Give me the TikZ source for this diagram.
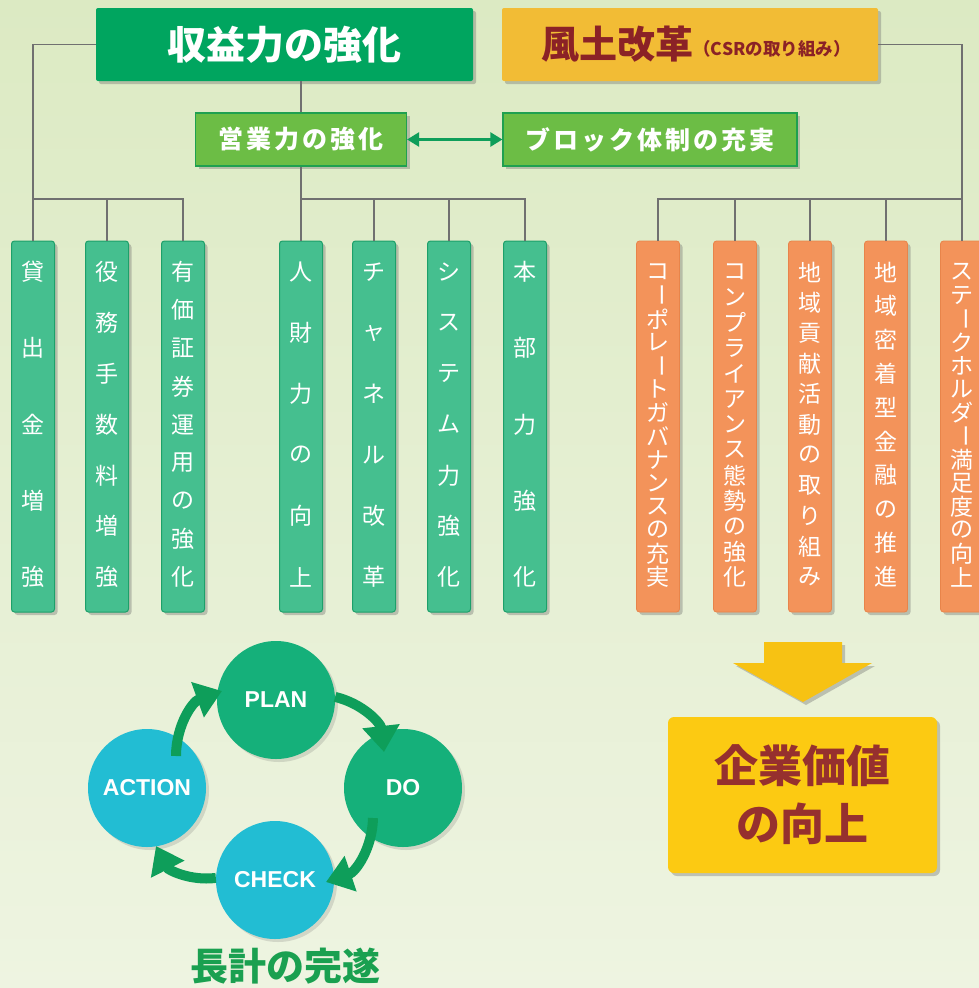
\documentclass[tikz,border=0pt]{standalone}
\usepackage{fontspec}
\setmainfont{Liberation Sans}
\newfontfamily\cjk{Noto Sans CJK JP}
\newfontfamily\cjkls{Noto Sans CJK JP}[LetterSpace=12]
\usetikzlibrary{shadows,arrows.meta}
\definecolor{bgA}{HTML}{DCEAC3}
\definecolor{bgB}{HTML}{D5E6B6}
\definecolor{bgC}{HTML}{EEF4E1}
\definecolor{gDark}{HTML}{00A55F}
\definecolor{yHead}{HTML}{F2BC35}
\definecolor{dRed}{HTML}{8B2226}
\definecolor{gMid}{HTML}{6CBD45}
\definecolor{gMidB}{HTML}{1FA050}
\definecolor{gCol}{HTML}{45BF8F}
\definecolor{gColB}{HTML}{1DA06A}
\definecolor{oCol}{HTML}{F3935A}
\definecolor{oColB}{HTML}{E8844A}
\definecolor{pdG}{HTML}{15B07A}
\definecolor{pdC}{HTML}{22BDD3}
\definecolor{arrG}{HTML}{0E9E5A}
\definecolor{txG}{HTML}{1AA050}
\definecolor{yArr}{HTML}{F7C213}
\definecolor{yBox}{HTML}{FCCA12}
\definecolor{boxRed}{HTML}{96302E}
\definecolor{lineC}{HTML}{707070}
\newcommand\tbar{\rotatebox[origin=c]{-90}{ー}}
\newcommand\colchars[3]{%
  \foreach \c [count=\i] in {#3} {\node[chr] at (#1,{272+(\i-1)*305/(#2-1)}) {\c};}}
\begin{document}
\begin{tikzpicture}[x=1pt,y=-1pt,
  shad/.style={drop shadow={shadow xshift=3pt,shadow yshift=-3pt,opacity=0.35,fill=black!60}},
  hbox/.style={shad,rounded corners=2pt,inner sep=0pt,minimum height=73pt},
  mbox/.style={shad,fill=gMid,draw=gMidB,line width=1.2pt,inner sep=0pt,minimum height=53pt,text=white,
     font=\cjkls\bfseries\fontsize{25}{25}\selectfont},
  gcol/.style={shad,fill=gCol,draw=gColB,line width=1pt,rounded corners=3pt,minimum width=43pt,minimum height=371pt,inner sep=0pt},
  ocol/.style={shad,fill=oCol,draw=oColB,line width=0.8pt,rounded corners=3pt,minimum width=43pt,minimum height=371pt,inner sep=0pt},
  chr/.style={text=white,inner sep=0pt,font=\cjk\fontsize{23}{23}\selectfont},
  conn/.style={draw=lineC,line width=1.3pt},
  darrow/.style={draw=arrG,line width=2.5pt,{Triangle[width=14pt,length=12pt]}-{Triangle[width=14pt,length=12pt]}},
  pd/.style={circle,minimum size=118pt,inner sep=0pt,text=white,font=\bfseries\fontsize{23}{23}\selectfont,
     drop shadow={shadow xshift=3pt,shadow yshift=-3pt,opacity=0.2,fill=black!60}},
  parrow/.style={draw=arrG,line width=10pt,-{Triangle[width=36pt,length=26pt]}}
]
\useasboundingbox (0,0) rectangle (979,988);
\shade[top color=bgA,middle color=bgB,bottom color=bgC] (0,0) rectangle (979,988);

% headers
\node[hbox,fill=gDark,minimum width=377pt,text=white,font=\cjk\bfseries\fontsize{39}{39}\selectfont] (syu) at (284.5,44.5) {収益力の強化};
\node[hbox,fill=yHead,minimum width=376pt,text=dRed] (fudo) at (690,44.5)
  {\cjk\bfseries\fontsize{38}{38}\selectfont\hspace*{12pt}風土改革\raisebox{3pt}{\fontsize{17.5}{17.5}\selectfont （CSRの取り組み）}};

\node[mbox,minimum width=211pt] (eig) at (301,139.5) {営業力の強化};
\node[mbox,minimum width=294pt] (blk) at (650,139.5) {ブロック体制の充実};

% columns
\foreach \x/\n in {33/c1,107/c2,183/c3,301/c4,374/c5,449/c6,525/c7}
  \node[gcol] (\n) at (\x,426.5) {};
\foreach \x/\n in {658/o1,735/o2,810/o3,886/o4,962/o5}
  \node[ocol] (\n) at (\x,426.5) {};

\colchars{33}{5}{貸,出,金,増,強}
\colchars{107}{7}{役,務,手,数,料,増,強}
\colchars{183}{9}{有,価,証,券,運,用,の,強,化}
\colchars{301}{6}{人,財,力,の,向,上}
\colchars{374}{6}{チ,ャ,ネ,ル,改,革}
\colchars{449}{7}{シ,ス,テ,ム,力,強,化}
\colchars{525}{5}{本,部,力,強,化}
\colchars{658}{14}{コ,\tbar,ポ,レ,\tbar,ト,ガ,バ,ナ,ン,ス,の,充,実}
\colchars{735}{13}{コ,ン,プ,ラ,イ,ア,ン,ス,態,勢,の,強,化}
\colchars{810}{11}{地,域,貢,献,活,動,の,取,り,組,み}
\colchars{886}{10}{地,域,密,着,型,金,融,の,推,進}
\colchars{962}{14}{ス,テ,\tbar,ク,ホ,ル,ダ,\tbar,満,足,度,の,向,上}

% connectors
\coordinate (bus) at (0,199);
\draw[conn] (syu.west) -| (c1.north);
\draw[conn] (c1.north |- bus) -| (c3.north);
\draw[conn] (c2.north) -- (c2.north |- bus);
\draw[conn] (eig.north) -- (eig.north |- syu.south);
\draw[conn] (eig.south) -- (c4.north);
\draw[conn] (c4.north |- bus) -| (c7.north);
\draw[conn] (c5.north) -- (c5.north |- bus);
\draw[conn] (c6.north) -- (c6.north |- bus);
\draw[conn] (fudo.east) -| (o5.north);
\draw[conn] (o5.north |- bus) -| (o1.north);
\draw[conn] (o2.north) -- (o2.north |- bus);
\draw[conn] (o3.north) -- (o3.north |- bus);
\draw[conn] (o4.north) -- (o4.north |- bus);
\draw[darrow] (eig.east) -- (blk.west);

% PDCA
\node[pd,fill=pdG] (plan) at (276,700) {PLAN};
\node[pd,fill=pdG] (do) at (403,788) {DO};
\node[pd,fill=pdC] (check) at (275,880) {CHECK};
\node[pd,fill=pdC] (action) at (147,788) {ACTION};
\coordinate (t1) at (384,752);
\coordinate (s2) at (373,818);
\coordinate (t2) at (326,882);
\coordinate (t3) at (156,846);
\coordinate (s4) at (176,756);
\coordinate (t4) at (222,691);
\draw[parrow] (plan.3) to[bend left=35] (t1);
\draw[parrow] (s2) to[bend left=35] (t2);
\draw[parrow] (check.178) to[bend left=35] (t3);
\draw[parrow] (s4) to[bend left=35] (t4);
\node[text=txG,inner sep=0pt,font=\cjk\bfseries\fontsize{38}{38}\selectfont] (kei) at (285,966) {長計の完遂};

% result
\fill[yArr,shad] (764,642) -- (842,642) -- (842,663) -- (872,663) -- (803,702) -- (733,663) -- (764,663) -- cycle;
\node[shad,fill=yBox,rounded corners=6pt,minimum width=269pt,minimum height=156pt,inner sep=0pt,
  text=boxRed,align=center,font=\cjk\bfseries\fontsize{44}{58}\selectfont] (kig) at (802.5,795) {企業価値\\の向上};
\end{tikzpicture}
\end{document}
